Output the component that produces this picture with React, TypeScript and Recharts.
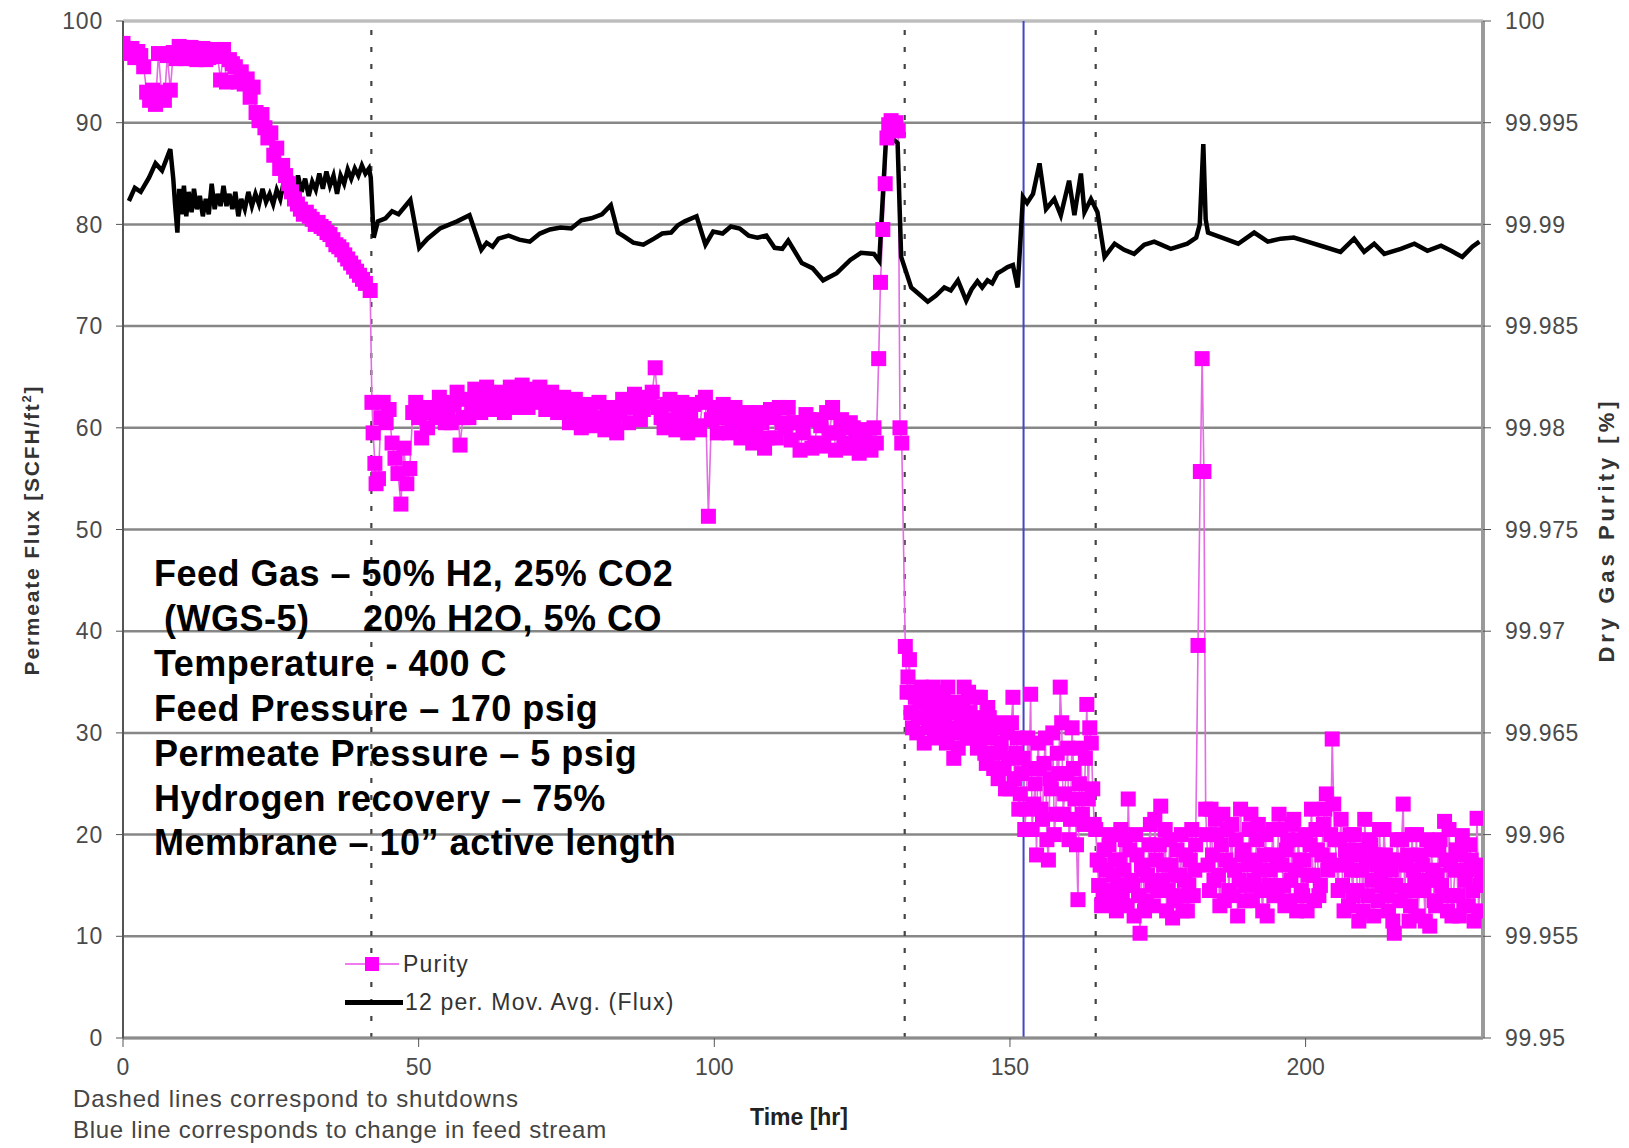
import React from "react";
import {
  LineChart,
  Line,
  XAxis,
  YAxis,
  CartesianGrid,
  ReferenceLine,
} from "recharts";

// time [hr], 12 per. moving average of flux [SCFH/ft2]
const fluxAvg: [number, number][] = [
  [1, 82.3], [2, 83.6], [3, 83.2], [4.4, 84.6], [5.5, 86.0], [6.6, 85.3], [8.0, 87.4], [8.5, 84.5],
  [8.8, 82.0], [9.2, 79.2], [9.5, 83.5], [9.9, 81.0], [10.3, 83.8], [10.7, 80.8], [11.1, 83.2], [11.6, 81.2],
  [12.0, 83.5], [12.5, 81.5], [13.0, 82.8], [13.5, 80.8], [14.0, 82.5], [14.5, 81.0], [15.0, 84.0],
  [15.5, 81.5], [16.0, 83.0], [16.5, 81.8], [17.0, 83.8], [17.5, 81.8], [18.0, 83.0], [18.5, 81.5],
  [19.0, 83.2], [19.5, 80.8], [20.0, 82.5], [20.6, 81.5], [21.2, 83.2], [21.8, 81.8], [22.4, 83.0],
  [23.0, 82.0], [23.6, 83.5], [24.2, 82.2], [24.8, 83.0], [25.4, 82.0], [26.0, 83.4], [26.6, 82.5],
  [27.2, 84.2], [27.8, 83.0], [28.4, 84.8], [29.0, 83.5], [29.6, 84.8], [30.2, 83.2], [30.8, 84.5],
  [31.4, 82.8], [32.0, 84.2], [32.6, 83.4], [33.2, 85.0], [33.8, 83.5], [34.4, 85.2], [35.0, 83.8],
  [35.6, 84.8], [36.2, 83.0], [36.8, 84.8], [37.4, 84.0], [38.0, 85.4], [38.6, 84.5], [39.2, 85.5],
  [39.8, 84.8], [40.4, 85.8], [41.0, 85.0], [41.6, 85.5], [41.9, 84.6], [42.4, 78.7], [43.1, 80.3],
  [44.4, 80.6], [45.5, 81.3], [46.6, 81.0], [48.6, 82.4], [50.1, 77.7], [51.5, 78.6], [53.6, 79.6],
  [56.5, 80.3], [58.6, 80.9], [60.6, 77.5], [61.5, 78.2], [62.5, 77.8], [63.5, 78.6], [65.2, 78.9],
  [67.0, 78.5], [68.8, 78.3], [70.5, 79.1], [72.2, 79.5], [74.0, 79.7], [75.8, 79.6], [77.5, 80.4],
  [79.2, 80.6], [81.0, 81.0], [82.5, 81.9], [83.7, 79.2], [84.8, 78.8], [86.3, 78.2], [88.0, 78.0],
  [89.8, 78.6], [91.2, 79.1], [92.7, 79.2], [93.8, 79.9], [95.0, 80.3], [97.0, 80.8], [98.5, 78.0],
  [99.8, 79.3], [101.4, 79.1], [102.8, 79.8], [104.3, 79.6], [105.8, 78.9], [107.3, 78.7], [108.8, 78.9],
  [110.2, 77.7], [111.5, 77.6], [112.5, 78.4], [114.8, 76.2], [116.6, 75.7], [118.4, 74.5], [120.7, 75.2],
  [123.0, 76.5], [124.8, 77.2], [127.0, 77.1], [127.9, 76.4], [129.0, 88.0], [130.2, 88.4], [131.0, 88.0],
  [131.6, 76.8], [133.3, 73.8], [134.5, 73.2], [136.1, 72.4], [137.5, 73.0], [138.9, 73.8], [140.0, 73.5],
  [141.2, 74.5], [142.6, 72.5], [143.5, 73.6], [144.5, 74.4], [145.3, 73.8], [146.2, 74.5], [147.0, 74.2],
  [147.9, 75.2], [148.8, 75.5], [149.6, 75.8], [150.5, 76.0], [151.3, 73.8], [152.2, 82.7], [152.9, 82.1],
  [153.9, 83.0], [155.0, 86.0], [156.1, 81.5], [157.5, 82.5], [158.6, 80.9], [160.0, 84.3], [160.9, 80.9],
  [162.0, 85.0], [162.6, 81.2], [163.7, 82.5], [164.8, 81.2], [166.0, 76.8], [167.7, 78.1], [169.3, 77.5],
  [171.0, 77.1], [172.7, 78.0], [174.4, 78.3], [177.2, 77.6], [180.0, 78.1], [181.5, 78.7], [182.1, 80.0],
  [182.7, 87.9], [183.1, 80.5], [183.5, 79.2], [186.3, 78.6], [188.6, 78.1], [191.3, 79.2], [193.6, 78.3],
  [195.8, 78.6], [198.0, 78.7], [200.3, 78.3], [203.1, 77.8], [205.9, 77.3], [208.2, 78.6], [209.9, 77.3],
  [211.6, 78.1], [213.3, 77.1], [216.1, 77.6], [218.4, 78.1], [220.6, 77.4], [222.9, 77.9], [224.6, 77.4],
  [226.5, 76.8], [228.2, 77.8], [229.4, 78.3],
];

// time [hr], dry gas purity [%] before the first shutdown
const purityEarly: [number, number][] = [
  [0, 99.9989], [0.5, 99.9986], [1, 99.9984], [1.5, 99.99865], [2, 99.9982], [2.5, 99.9985], [3, 99.9983],
  [3.5, 99.99775], [4, 99.9965], [4.5, 99.9961], [5, 99.9966], [5.5, 99.9959], [6, 99.9984], [6.5, 99.9965],
  [7, 99.9961], [7.5, 99.9983], [8, 99.9966], [8.5, 99.99845], [9, 99.99815], [9.5, 99.99875], [10, 99.9984],
  [10.5, 99.99815], [11, 99.9987], [11.5, 99.9987], [12, 99.99815], [12.5, 99.9981], [13, 99.99845],
  [13.5, 99.99865], [14, 99.9981], [14.5, 99.9982], [15, 99.9984], [15.5, 99.9986], [16, 99.99825],
  [16.5, 99.9971], [17, 99.9986], [17.5, 99.997], [18, 99.9981], [18.5, 99.9979], [19, 99.99775],
  [19.5, 99.997], [20, 99.9975], [20.5, 99.9969], [21, 99.99715], [21.5, 99.99625], [22, 99.99675],
  [22.5, 99.9955], [23, 99.9951], [23.5, 99.9954], [24, 99.99475], [24.5, 99.99425], [25, 99.9945],
  [25.5, 99.9934], [26, 99.99375], [26.5, 99.99275], [27, 99.9929], [27.5, 99.9924], [28, 99.992],
  [28.5, 99.9916], [29, 99.99125], [29.5, 99.991], [30, 99.99075], [30.5, 99.9905], [31, 99.9906],
  [31.5, 99.9904], [32, 99.99025], [32.5, 99.99], [33, 99.9901], [33.5, 99.9899], [34, 99.9898],
  [34.5, 99.9896], [35, 99.9895], [35.5, 99.98925], [36, 99.989], [36.5, 99.9889], [37, 99.98875],
  [37.5, 99.9885], [38, 99.9883], [38.5, 99.9881], [39, 99.9879], [39.5, 99.9877], [40, 99.9875],
  [40.5, 99.9873], [41, 99.9871], [41.8, 99.98675],
];

// purity between the first and second shutdown
const purityMid: [number, number][] = [
  [42.1, 99.98125], [42.3, 99.97975], [42.6, 99.97825], [42.8, 99.97725], [43.2, 99.9775], [43.6, 99.9805],
  [44, 99.98125], [44.5, 99.98025], [45, 99.9809], [45.5, 99.97925], [46, 99.9785], [46.5, 99.97775],
  [47, 99.97625], [47.5, 99.979], [48, 99.97725], [48.5, 99.978], [49, 99.98075], [49.5, 99.98125],
  [50, 99.9805], [50.5, 99.9795], [51, 99.98075], [51.5, 99.98], [52, 99.981], [52.5, 99.98075],
  [53, 99.9805], [53.5, 99.9815], [54, 99.98125], [54.5, 99.98025], [55, 99.9809], [55.5, 99.98025],
  [56, 99.98115], [56.5, 99.98175], [57, 99.97915], [57.5, 99.9805], [58, 99.9814], [58.5, 99.9805],
  [59, 99.981], [59.5, 99.9819], [60, 99.98165], [60.5, 99.98075], [61, 99.98125], [61.5, 99.982],
  [62, 99.9815], [62.5, 99.9809], [63, 99.981], [63.5, 99.98175], [64, 99.9815], [64.5, 99.98075],
  [65, 99.98125], [65.5, 99.982], [66, 99.98175], [66.5, 99.981], [67, 99.9814], [67.5, 99.9821],
  [68, 99.98175], [68.5, 99.981], [69, 99.9819], [69.5, 99.98125], [70, 99.9816], [70.5, 99.982],
  [71, 99.9815], [71.5, 99.9809], [72, 99.98115], [72.5, 99.98175], [73, 99.9814], [73.5, 99.98075],
  [74, 99.9809], [74.5, 99.9815], [75, 99.9811], [75.5, 99.98025], [76, 99.9805], [76.5, 99.9814],
  [77, 99.98075], [77.5, 99.98], [78, 99.98025], [78.5, 99.98115], [79, 99.9809], [79.5, 99.9801],
  [80, 99.9805], [80.5, 99.98125], [81, 99.9804], [81.5, 99.9799], [82, 99.9806], [82.5, 99.981],
  [83, 99.98025], [83.5, 99.97975], [84, 99.98075], [84.5, 99.9814], [85, 99.98125], [85.5, 99.98025],
  [86, 99.981], [86.5, 99.98165], [87, 99.98125], [87.5, 99.9804], [88, 99.9809], [88.5, 99.9815],
  [89, 99.98125], [89.5, 99.98175], [90, 99.98295], [90.5, 99.981], [91, 99.9805], [91.5, 99.98],
  [92, 99.98115], [92.5, 99.9814], [93, 99.9804], [93.5, 99.9799], [94, 99.98075], [94.5, 99.98125],
  [95, 99.98025], [95.5, 99.97975], [96, 99.9805], [96.5, 99.98115], [97, 99.9801], [97.5, 99.9799],
  [98, 99.98125], [98.5, 99.9815], [99, 99.97565], [99.5, 99.9804], [100, 99.981], [100.5, 99.97975],
  [101, 99.9805], [101.5, 99.98115], [102, 99.98075], [102.5, 99.97975], [103, 99.98025], [103.5, 99.981],
  [104, 99.9805], [104.5, 99.9795], [105, 99.98], [105.5, 99.98075], [106, 99.9804], [106.5, 99.97925],
  [107, 99.9799], [107.5, 99.98075], [108, 99.98025], [108.5, 99.979], [109, 99.9795], [109.5, 99.9809],
  [110, 99.9805], [110.5, 99.9795], [111, 99.981], [111.5, 99.98025], [112, 99.98], [112.5, 99.981],
  [113, 99.9794], [113.5, 99.98025], [114, 99.98025], [114.5, 99.9789], [115, 99.97975], [115.5, 99.98065],
  [116, 99.9804], [116.5, 99.979], [117, 99.97925], [117.5, 99.9804], [118, 99.9801], [118.5, 99.9791],
  [119, 99.98075], [119.5, 99.97975], [120, 99.981], [120.5, 99.9789], [121, 99.97975], [121.5, 99.9804],
  [122, 99.97925], [122.5, 99.979], [123, 99.98025], [123.5, 99.98], [124, 99.9794], [124.5, 99.97875],
  [125, 99.9799], [125.5, 99.9799], [126, 99.97925], [126.5, 99.9789], [127, 99.98], [127.4, 99.97925],
  [127.8, 99.9834], [128.1, 99.98715], [128.5, 99.98975], [128.9, 99.992], [129.2, 99.99425],
  [129.5, 99.9949], [129.9, 99.9951], [130.3, 99.99475], [130.7, 99.995], [131.1, 99.9946], [131.4, 99.98],
  [131.7, 99.97925],
];

// purity after the second shutdown, half-hour readings
const purityLate: [number, number][] = [
  [132.3, 99.96925], [132.6, 99.967], [133, 99.9686], [133.5, 99.96525], [134, 99.96675], [134.5, 99.96575],
  [135, 99.96725], [135.5, 99.9645], [136, 99.9665], [136.5, 99.9655], [137, 99.96725], [137.5, 99.966],
  [138, 99.965], [138.5, 99.9665], [139, 99.96575], [139.5, 99.96725], [140, 99.96525], [140.5, 99.96375],
  [141, 99.96625], [141.5, 99.965], [142, 99.9665], [142.5, 99.9655], [143, 99.967], [143.5, 99.96475],
  [144, 99.96575], [144.5, 99.96425], [145, 99.96675], [145.5, 99.965], [146, 99.9635], [146.5, 99.96575],
  [147, 99.964], [147.5, 99.96525], [148, 99.96275], [148.5, 99.9645], [149, 99.96325], [149.5, 99.965],
  [150, 99.96225], [150.5, 99.96675], [151, 99.964], [151.5, 99.96125], [152, 99.963], [152.5, 99.96025],
  [153, 99.96475], [153.5, 99.9669], [154, 99.9615], [154.5, 99.959], [155, 99.96325], [155.5, 99.96075],
  [156, 99.96475], [156.5, 99.95875], [157, 99.96225], [157.5, 99.96], [158, 99.964], [158.5, 99.96725],
  [159, 99.961], [159.5, 99.963], [160, 99.95975], [160.5, 99.96525], [161, 99.96175], [161.5, 99.9568],
  [162, 99.96425], [162.5, 99.9605], [163, 99.9664], [163.5, 99.96525], [164, 99.96225], [164.5, 99.96025],
  [165, 99.9575], [165.5, 99.9565], [166, 99.95925], [166.5, 99.95725], [167, 99.96], [167.5, 99.958],
  [168, 99.95625], [168.5, 99.95875], [169, 99.957], [169.5, 99.95975], [170, 99.96175], [170.5, 99.95775],
  [171, 99.956], [171.5, 99.959], [172, 99.95515], [172.5, 99.95825], [173, 99.95675], [173.5, 99.9595],
  [174, 99.9575], [174.5, 99.96075], [175, 99.95725], [175.5, 99.9614], [176, 99.9585], [176.5, 99.95625],
  [177, 99.95975], [177.5, 99.9559], [178, 99.958], [178.5, 99.957], [179, 99.96], [179.5, 99.95775],
  [180, 99.95625], [180.5, 99.95875], [181, 99.957], [181.4, 99.9595], [181.8, 99.9693], [182.2, 99.97785],
  [182.5, 99.9834], [182.8, 99.97785], [183.1, 99.96125], [183.5, 99.9585], [184, 99.96125], [184.5, 99.95775],
  [185, 99.96], [185.5, 99.9565], [186, 99.961], [186.5, 99.95875], [187, 99.95725], [187.5, 99.9605],
  [188, 99.95825], [188.5, 99.956], [189, 99.96125], [189.5, 99.95925], [190, 99.9575], [190.5, 99.96025],
  [191, 99.95675], [191.5, 99.95875], [192, 99.9605], [192.5, 99.95725], [193, 99.959], [193.5, 99.956],
  [194, 99.95825], [194.5, 99.96025], [195, 99.957], [195.5, 99.961], [196, 99.9585], [196.5, 99.9565],
  [197, 99.95975], [197.5, 99.95775], [198, 99.96075], [198.5, 99.95625], [199, 99.95875], [199.5, 99.957],
  [200, 99.96], [200.5, 99.958], [201, 99.96125], [201.5, 99.95675], [202, 99.95925], [202.5, 99.9575],
  [203, 99.9605], [203.5, 99.962], [204, 99.95875], [204.5, 99.9647], [205, 99.95975], [205.5, 99.95725],
  [206, 99.96075], [206.5, 99.95625], [207, 99.95875], [207.5, 99.96], [208, 99.957], [208.5, 99.95925],
  [209, 99.95575], [209.5, 99.95825], [210, 99.96075], [210.5, 99.957], [211, 99.9595], [211.5, 99.956],
  [212, 99.9585], [212.5, 99.96025], [213, 99.9575], [213.5, 99.959], [214, 99.95625], [214.5, 99.95825],
  [215, 99.95515], [215.5, 99.95975], [216, 99.95675], [216.5, 99.9615], [217, 99.9585], [217.5, 99.95575],
  [218, 99.96], [218.5, 99.95775], [219, 99.956], [219.5, 99.959], [220, 99.95725], [220.5, 99.95975],
  [221, 99.9555], [221.5, 99.95825], [222, 99.9565], [222.5, 99.95925], [223, 99.9575], [223.5, 99.96065],
  [224, 99.95625], [224.5, 99.9585], [225, 99.957], [225.5, 99.95925], [226, 99.956], [226.5, 99.95995],
  [227, 99.95775], [227.5, 99.9565], [228, 99.95875], [228.5, 99.95575], [229, 99.9608], [229.5, 99.9575],
];

// purity after the second shutdown, quarter-hour readings in between
const purityLateQuarter: [number, number][] = [
  [132.75, 99.96775], [133.25, 99.966], [133.75, 99.967], [134.25, 99.965], [134.75, 99.9665],
  [135.25, 99.96575], [135.75, 99.967], [136.25, 99.96525], [136.75, 99.96625], [137.25, 99.96475],
  [137.75, 99.96675], [138.25, 99.9655], [138.75, 99.967], [139.25, 99.9645], [139.75, 99.966],
  [140.25, 99.965], [140.75, 99.9665], [141.25, 99.96425], [141.75, 99.96575], [142.25, 99.96725],
  [142.75, 99.96475], [143.25, 99.966], [143.75, 99.96525], [144.25, 99.96675], [144.75, 99.9645],
  [145.25, 99.9655], [145.75, 99.964], [146.25, 99.96625], [146.75, 99.96475], [147.25, 99.96325],
  [147.75, 99.9655], [148.25, 99.964], [148.75, 99.96525], [149.25, 99.96225], [149.75, 99.96375],
  [150.25, 99.9655], [150.75, 99.96275], [151.25, 99.96475], [151.75, 99.962], [152.25, 99.96375],
  [152.75, 99.96125], [153.25, 99.96325], [153.75, 99.96025], [154.25, 99.9625], [154.75, 99.9645],
  [155.25, 99.96125], [155.75, 99.9635], [156.25, 99.95975], [156.75, 99.96275], [157.25, 99.965],
  [157.75, 99.961], [158.25, 99.963], [158.75, 99.9655], [159.25, 99.962], [159.75, 99.96425],
  [160.25, 99.96075], [160.75, 99.96325], [161.25, 99.9595], [161.75, 99.9625], [162.25, 99.961],
  [162.75, 99.96375], [163.25, 99.96175], [163.75, 99.9645], [164.25, 99.9605], [164.75, 99.95875],
  [165.25, 99.9585], [165.75, 99.957], [166.25, 99.95825], [166.75, 99.9595], [167.25, 99.95675],
  [167.75, 99.95875], [168.25, 99.9575], [168.75, 99.96025], [169.25, 99.95825], [169.75, 99.9565],
  [170.25, 99.95925], [170.75, 99.9575], [171.25, 99.96], [171.75, 99.957], [172.25, 99.9585],
  [172.75, 99.95625], [173.25, 99.958], [173.75, 99.9605], [174.25, 99.9565], [174.75, 99.95875],
  [175.25, 99.9595], [175.75, 99.95775], [176.25, 99.96025], [176.75, 99.95725], [177.25, 99.9585],
  [177.75, 99.95675], [178.25, 99.95925], [178.75, 99.958], [179.25, 99.95625], [179.75, 99.959],
  [180.25, 99.9575], [180.75, 99.96025], [181.25, 99.95825], [183.25, 99.96], [183.75, 99.95725],
  [184.25, 99.959], [184.75, 99.96075], [185.25, 99.958], [185.75, 99.9595], [186.25, 99.95675],
  [186.75, 99.96025], [187.25, 99.9585], [187.75, 99.957], [188.25, 99.95975], [188.75, 99.95775],
  [189.25, 99.959], [189.75, 99.95675], [190.25, 99.9585], [190.75, 99.961], [191.25, 99.95775],
  [191.75, 99.95975], [192.25, 99.95825], [192.75, 99.95625], [193.25, 99.96], [193.75, 99.9575],
  [194.25, 99.959], [194.75, 99.957], [195.25, 99.95875], [195.75, 99.96025], [196.25, 99.9575],
  [196.75, 99.95925], [197.25, 99.95675], [197.75, 99.9605], [198.25, 99.95825], [198.75, 99.95975],
  [199.25, 99.95725], [199.75, 99.95875], [200.25, 99.95625], [200.75, 99.9595], [201.25, 99.958],
  [201.75, 99.96025], [202.25, 99.957], [202.75, 99.959], [203.25, 99.96125], [203.75, 99.95825],
  [204.25, 99.96], [204.75, 99.9615], [205.25, 99.9585], [205.75, 99.95975], [206.25, 99.9575],
  [206.75, 99.95925], [207.25, 99.9565], [207.75, 99.95825], [208.25, 99.96], [208.75, 99.95725],
  [209.25, 99.959], [209.75, 99.95625], [210.25, 99.95875], [210.75, 99.95975], [211.25, 99.95775],
  [211.75, 99.959], [212.25, 99.95675], [212.75, 99.958], [213.25, 99.96025], [213.75, 99.957],
  [214.25, 99.95875], [214.75, 99.95575], [215.25, 99.9575], [215.75, 99.95875], [216.25, 99.95975],
  [216.75, 99.95725], [217.25, 99.959], [217.75, 99.9565], [218.25, 99.95825], [218.75, 99.96],
  [219.25, 99.95725], [219.75, 99.9585], [220.25, 99.95575], [220.75, 99.95775], [221.25, 99.95925],
  [221.75, 99.95675], [222.25, 99.958], [222.75, 99.95975], [223.25, 99.957], [223.75, 99.95875],
  [224.25, 99.96025], [224.75, 99.956], [225.25, 99.95825], [225.75, 99.957], [226.25, 99.959],
  [226.75, 99.9565], [227.25, 99.95825], [227.75, 99.9595], [228.25, 99.95725], [228.75, 99.9585],
  [229.25, 99.95625], [229.75, 99.958],
];

const shutdowns = [42, 132.2, 164.5];
const feedChange = 152.3;

const timeTicks = [0, 50, 100, 150, 200];
const fluxTicks = [0, 10, 20, 30, 40, 50, 60, 70, 80, 90, 100];
const purityTicks = [99.95, 99.955, 99.96, 99.965, 99.97, 99.975, 99.98, 99.985, 99.99, 99.995, 100];

const fluxData = fluxAvg.map(([t, flux]) => ({ t, flux }));
const purityData = [...purityEarly, ...purityMid, ...purityLate, ...purityLateQuarter]
  .sort((a, b) => a[0] - b[0])
  .map(([t, purity]) => ({ t, purity }));

const FONT = "'Liberation Sans', Arial, sans-serif";
const MAGENTA = "#ff00ff";

const SquareDot = (props: any) => {
  const { cx, cy, index } = props;
  if (cx == null || cy == null) return <g key={`d-${index}`} />;
  return <rect key={`d-${index}`} x={cx - 7.5} y={cy - 7.5} width={15} height={15} fill={MAGENTA} />;
};

const tickStyle = { fontSize: 23, fill: "#4a4a4a", fontFamily: FONT };

const notes = [
  { text: "Feed Gas \u2013 50% H2, 25% CO2", x: 154, y: 574 },
  { text: "(WGS-5)", x: 164, y: 619 },
  { text: "20% H2O, 5% CO", x: 363, y: 619 },
  { text: "Temperature - 400 C", x: 154, y: 664 },
  { text: "Feed Pressure \u2013 170 psig", x: 154, y: 709 },
  { text: "Permeate Pressure \u2013 5 psig", x: 154, y: 754 },
  { text: "Hydrogen recovery \u2013 75%", x: 154, y: 799 },
  { text: "Membrane \u2013 10\u201d active length", x: 154, y: 843 },
];

export default function App() {
  return (
    <div
      style={{
        position: "absolute",
        left: 0,
        top: 0,
        width: 1629,
        height: 1148,
        background: "#fff",
        fontFamily: FONT,
      }}
    >
      <LineChart width={1629} height={1148} margin={{ top: 21, right: 0, bottom: 70, left: 0 }}>
        <CartesianGrid yAxisId="left" vertical={false} stroke="#878787" strokeWidth={2.5} />
        <XAxis
          dataKey="t"
          type="number"
          domain={[0, 230]}
          ticks={timeTicks}
          allowDataOverflow
          height={40}
          tickSize={9}
          tickMargin={12}
          tick={tickStyle}
          axisLine={{ stroke: "#8c8c8c", strokeWidth: 3 }}
          tickLine={{ stroke: "#555" }}
        />
        <YAxis
          yAxisId="left"
          type="number"
          domain={[0, 100]}
          ticks={fluxTicks}
          width={123}
          tickSize={7}
          tickMargin={13}
          tick={{ ...tickStyle, letterSpacing: 0.8 }}
          axisLine={{ stroke: "#555", strokeWidth: 2 }}
          tickLine={{ stroke: "#555" }}
        />
        <YAxis
          yAxisId="right"
          orientation="right"
          type="number"
          domain={[99.95, 100]}
          ticks={purityTicks}
          allowDataOverflow
          width={146}
          tickSize={8}
          tickMargin={14}
          tick={{ ...tickStyle, letterSpacing: 0.6 }}
          tickFormatter={(v: number) => String(Number(v.toFixed(3)))}
          axisLine={{ stroke: "#9a9a9a", strokeWidth: 4 }}
          tickLine={{ stroke: "#555" }}
        />
        <ReferenceLine yAxisId="left" y={100} stroke="#bdbdbd" strokeWidth={3} />
        {shutdowns.map((x) => (
          <ReferenceLine
            key={x}
            yAxisId="left"
            x={x}
            stroke="#444"
            strokeWidth={2.2}
            strokeDasharray="5 12"
          />
        ))}
        <ReferenceLine yAxisId="left" x={feedChange} stroke="#4444c8" strokeWidth={2} />
        <Line
          yAxisId="right"
          data={purityData}
          dataKey="purity"
          type="linear"
          stroke="#e46be4"
          strokeWidth={1.6}
          dot={SquareDot}
          activeDot={false}
          isAnimationActive={false}
        />
        <Line
          yAxisId="left"
          data={fluxData}
          dataKey="flux"
          type="linear"
          stroke="#000"
          strokeWidth={4.5}
          strokeLinejoin="miter"
          dot={false}
          activeDot={false}
          isAnimationActive={false}
        />
      </LineChart>

      {notes.map((n) => (
        <div
          key={n.text}
          style={{
            position: "absolute",
            left: n.x,
            top: n.y - 22,
            lineHeight: "44px",
            fontSize: 36,
            letterSpacing: 0.5,
            fontWeight: "bold",
            color: "#000",
            whiteSpace: "nowrap",
          }}
        >
          {n.text}
        </div>
      ))}

      {/* legend */}
      <div style={{ position: "absolute", left: 345, top: 963, width: 54, height: 2, background: "#f07af0" }} />
      <div style={{ position: "absolute", left: 365, top: 957, width: 14, height: 14, background: MAGENTA }} />
      <div
        style={{ position: "absolute", left: 403, top: 950, fontSize: 23, letterSpacing: 1.2, lineHeight: "28px", color: "#333" }}
      >
        Purity
      </div>
      <div style={{ position: "absolute", left: 345, top: 1000, width: 58, height: 5, background: "#000" }} />
      <div
        style={{ position: "absolute", left: 405, top: 988, fontSize: 23, letterSpacing: 1.2, lineHeight: "28px", color: "#333" }}
      >
        12 per. Mov. Avg. (Flux)
      </div>

      {/* axis titles */}
      <div
        style={{
          position: "absolute",
          left: 31,
          top: 530,
          transform: "translate(-50%, -50%) rotate(-90deg)",
          fontSize: 21,
          fontWeight: "bold",
          color: "#333",
          whiteSpace: "nowrap",
          letterSpacing: 1.8,
        }}
      >
        Permeate Flux [SCFH/ft<sup style={{ fontSize: 13 }}>2</sup>]
      </div>
      <div
        style={{
          position: "absolute",
          left: 1607,
          top: 530,
          transform: "translate(-50%, -50%) rotate(-90deg)",
          fontSize: 22,
          fontWeight: "bold",
          color: "#333",
          whiteSpace: "nowrap",
          letterSpacing: 4,
        }}
      >
        Dry Gas Purity [%]
      </div>
      <div
        style={{
          position: "absolute",
          left: 750,
          top: 1103,
          fontSize: 23,
          lineHeight: "28px",
          fontWeight: "bold",
          color: "#222",
        }}
      >
        Time [hr]
      </div>

      {/* footnotes */}
      <div
        style={{ position: "absolute", left: 73, top: 1085, fontSize: 24, lineHeight: "28px", color: "#444", letterSpacing: 0.9, whiteSpace: "nowrap" }}
      >
        Dashed lines correspond to shutdowns
      </div>
      <div
        style={{ position: "absolute", left: 73, top: 1116, fontSize: 24, lineHeight: "28px", color: "#444", letterSpacing: 0.7, whiteSpace: "nowrap" }}
      >
        Blue line corresponds to change in feed stream
      </div>
    </div>
  );
}
